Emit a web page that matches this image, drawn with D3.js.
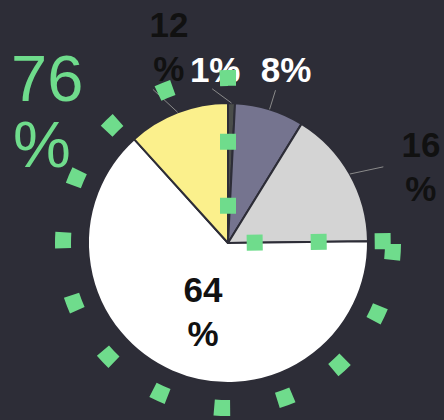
<!DOCTYPE html>
<html>
<head>
<meta charset="utf-8">
<script src="https://cdn.jsdelivr.net/npm/d3@7"></script>
<style>
  body { margin: 0; background: #2d2d37; overflow: hidden; }
</style>
</head>
<body>
<div class="chart"></div>
<script>
// slice shares, clockwise from 12 o'clock
const sliceValues = [0.8, 8, 16, 63.5, 11.7];
const sliceColors = ["#4a4d4a", "#75748f", "#d4d4d4", "#ffffff", "#fbf08c"];
// slices summed up in the big green figure
const highlighted = [3, 4];

const width = 444, height = 420;
const cx = 228, cy = 243;
const radius = 140, ringRadius = 165;

// where each label sits, relative to its slice
const labelLayout = [
  {turn: -7.3, r: 155, dx: 3, dy: -7, fill: "#ffffff", line: true},
  {turn: 0, r: 160, dx: 10.5, dy: -8, fill: "#ffffff", line: true},
  {turn: 3.4, r: 173, dx: 37.6, dy: -10, fill: "#111111", line: true},
  {turn: 0, r: 70, dx: 3, dy: -5, fill: "#111111", line: false},
  {turn: -5, r: 171, dx: 16, dy: -52, fill: "#111111", line: true}
];

const svg = d3.select(".chart").append("svg")
  .attr("width", width)
  .attr("height", height)

const g = svg.append("g")
  .attr("transform", `translate(${cx},${cy})`)

const pie = d3.pie().sort(null).value(d => d)
const slices = pie(sliceValues)

const arc = d3.arc().innerRadius(0).outerRadius(radius)

g.selectAll(".slice")
  .data(slices)
  .enter()
  .append("path")
  .attr("class", "slice")
  .attr("d", arc)
  .attr("fill", (d, i) => sliceColors[i])
  .attr("stroke", "#2d2d37")
  .attr("stroke-width", 2)
  .attr("stroke-linejoin", "round")

function polar(angle, r) {
  return [r * Math.sin(angle), -r * Math.cos(angle)]
}
const deg = Math.PI / 180

const labels = slices.map((d, i) => {
  const lay = labelLayout[i]
  const mid = (d.startAngle + d.endAngle) / 2
  const from = polar(mid, radius)
  const to = polar(mid + lay.turn * deg, lay.r)
  return {d, i, lay, from, to, text: Math.round(d.value)}
})

// leader lines
g.selectAll(".leader")
  .data(labels.filter(l => l.lay.line))
  .enter()
  .append("line")
  .attr("class", "leader")
  .attr("x1", l => l.from[0])
  .attr("y1", l => l.from[1])
  .attr("x2", l => l.to[0])
  .attr("y2", l => l.to[1])
  .attr("stroke", "#8a8a8a")
  .attr("stroke-width", 1)

// data labels, two-digit ones wrap onto two lines
const lab = g.selectAll(".label")
  .data(labels)
  .enter()
  .append("text")
  .attr("class", "label")
  .attr("x", l => l.to[0] + l.lay.dx)
  .attr("y", l => l.to[1] + l.lay.dy)
  .attr("text-anchor", "middle")
  .attr("font-family", "Liberation Sans, Arial, sans-serif")
  .attr("font-weight", "bold")
  .attr("font-size", 35)
  .attr("fill", l => l.lay.fill)

lab.each(function(l) {
  const t = d3.select(this)
  if (l.text >= 10) {
    t.append("tspan").attr("x", l.to[0] + l.lay.dx).text(l.text)
    t.append("tspan").attr("x", l.to[0] + l.lay.dx).attr("dy", 44).text("%")
  } else {
    t.text(l.text + "%")
  }
})

// dashed outline around the highlighted share
const ring = d3.arc().innerRadius(0).outerRadius(ringRadius)
g.append("path")
  .attr("d", ring({
    startAngle: slices[highlighted[0]].startAngle,
    endAngle: slices[highlighted[highlighted.length - 1]].endAngle
  }))
  .attr("fill", "none")
  .attr("stroke", "#6fdc8c")
  .attr("stroke-width", 16)
  .attr("stroke-dasharray", "16 48")
  .attr("stroke-dashoffset", -3)

// big total
const total = d3.sum(highlighted, i => Math.round(sliceValues[i]))
const big = svg.append("text")
  .attr("font-family", "Liberation Sans, Arial, sans-serif")
  .attr("font-size", 65)
  .attr("fill", "#6fdc8c")
big.append("tspan").attr("x", 11).attr("y", 101).text(total)
big.append("tspan").attr("x", 13).attr("y", 167).text("%")
</script>
</body>
</html>
